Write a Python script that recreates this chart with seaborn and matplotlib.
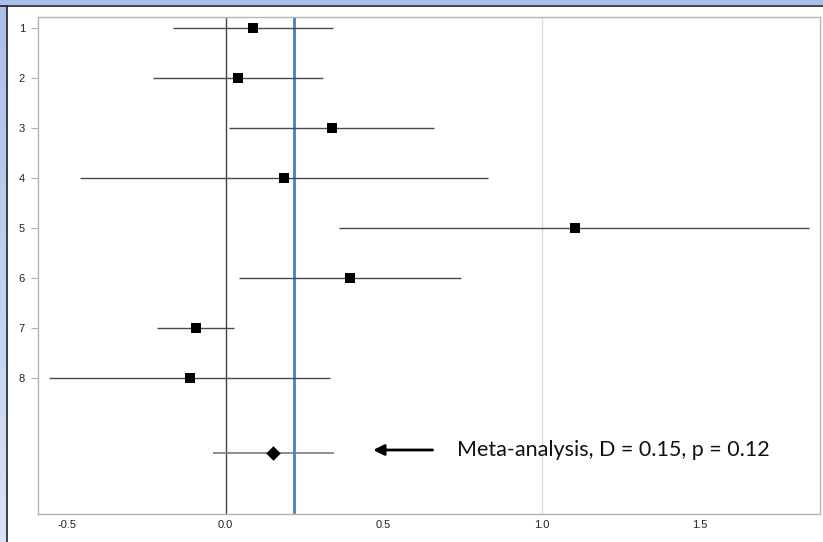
import matplotlib
matplotlib.use("Agg")
import matplotlib.pyplot as plt
from matplotlib.patches import Rectangle
from matplotlib.lines import Line2D
import numpy as np
import pandas as pd
import seaborn as sns

# Study-level effect sizes with confidence intervals
studies = [1, 2, 3, 4, 5, 6, 7, 8]
effect = [0.086, 0.040, 0.336, 0.186, 1.104, 0.394, -0.093, -0.112]
ci_low = [-0.167, -0.230, 0.010, -0.460, 0.359, 0.043, -0.216, -0.558]
ci_high = [0.339, 0.309, 0.660, 0.831, 1.845, 0.744, 0.028, 0.331]

# Pooled estimate
meta_effect = 0.15
meta_low = -0.039
meta_high = 0.344
meta_p = 0.12
meta_row = 9.5

ref_line = 0.215
x_ticks = [-0.5, 0.0, 0.5, 1.0, 1.5]

sns.set_theme(style="white")
plt.rcParams["font.family"] = ["Liberation Sans", "DejaVu Sans"]

W, H = 823, 542
fig = plt.figure(figsize=(W / 100, H / 100), dpi=100)
fig.patch.set_facecolor("white")

# Window-like blue frame on the top and left edges
fig.patches.append(Rectangle((0, 1 - 5 / H), 1, 5 / H, transform=fig.transFigure,
                             facecolor="#a8c0e8", edgecolor="none", zorder=0))
grad = np.linspace(0, 1, 100).reshape(-1, 1)
frame_ax = fig.add_axes([0, 0, 7 / W, 1])
frame_ax.imshow(grad, aspect="auto", cmap=matplotlib.colors.LinearSegmentedColormap.from_list(
    "edge", ["#a8c0e8", "#d8e3f4"]), extent=[0, 1, 0, 1], origin="upper")
frame_ax.set_axis_off()
fig.lines.append(Line2D([0, 1], [1 - 5.5 / H, 1 - 5.5 / H], transform=fig.transFigure,
                        color="#1c2030", lw=1.2))
fig.lines.append(Line2D([7.5 / W, 7.5 / W], [0, 1 - 5.5 / H], transform=fig.transFigure,
                        color="#1c2030", lw=1.2))

ax = fig.add_axes([37.5 / W, 1 - 514 / H, (820 - 37.5) / W, (514 - 17) / H])
ax.set_facecolor("white")

df = pd.DataFrame({"study": studies, "effect": effect, "lo": ci_low, "hi": ci_high})
meta = pd.DataFrame({"study": [meta_row], "effect": [meta_effect],
                     "lo": [meta_low], "hi": [meta_high]})

# Reference lines
ax.axvline(1.0, color="#dcdcdc", lw=1.0, zorder=0)
ax.axvline(0.0, color="#444444", lw=1.0, zorder=1)
ax.axvline(ref_line, color="#4a7ec4", lw=2.0, zorder=1)

# Confidence intervals
ax.hlines(df["study"], df["lo"], df["hi"], color="#4a4a4a", lw=1.0, zorder=2)
ax.hlines(meta["study"], meta["lo"], meta["hi"], color="#7a7a7a", lw=1.2, zorder=2)

# Point estimates
sns.scatterplot(data=df, x="effect", y="study", marker="s", s=48, color="black",
                edgecolor="black", linewidth=0, ax=ax, zorder=3)
sns.scatterplot(data=meta, x="effect", y="study", marker="D", s=55, color="black",
                edgecolor="black", linewidth=0, ax=ax, zorder=3)

ax.set_xlim(-0.5946, 1.880)
ax.set_ylim(10.72, 0.78)
ax.set_xticks(x_ticks)
ax.set_xticklabels([f"{t:.1f}" for t in x_ticks])
ax.set_yticks(studies)
ax.set_yticklabels([str(s) for s in studies])
ax.set_xlabel("")
ax.set_ylabel("")
ax.tick_params(axis="y", which="major", left=True, length=5, width=0.8,
               color="#b0b0b0", labelsize=8, labelcolor="#222222", pad=4)
ax.tick_params(axis="x", which="major", bottom=False, length=0, labelsize=8,
               labelcolor="#222222", pad=4)
for sp in ax.spines.values():
    sp.set_color("#b4b4b4")
    sp.set_linewidth(1.0)

# Annotation for the pooled estimate
ax.annotate("", xy=(0.467, 9.44), xytext=(0.655, 9.44),
            arrowprops=dict(arrowstyle="-|>", color="black", lw=2.0,
                            mutation_scale=16, shrinkA=0, shrinkB=0))
ax.text(0.731, 9.44, f"Meta-analysis, D = {meta_effect:.2f}, p = {meta_p:.2f}",
        ha="left", va="center", fontsize=15.5, color="#111111", family=["Lato", "DejaVu Sans"])

fig.savefig("out.png", dpi=100)
